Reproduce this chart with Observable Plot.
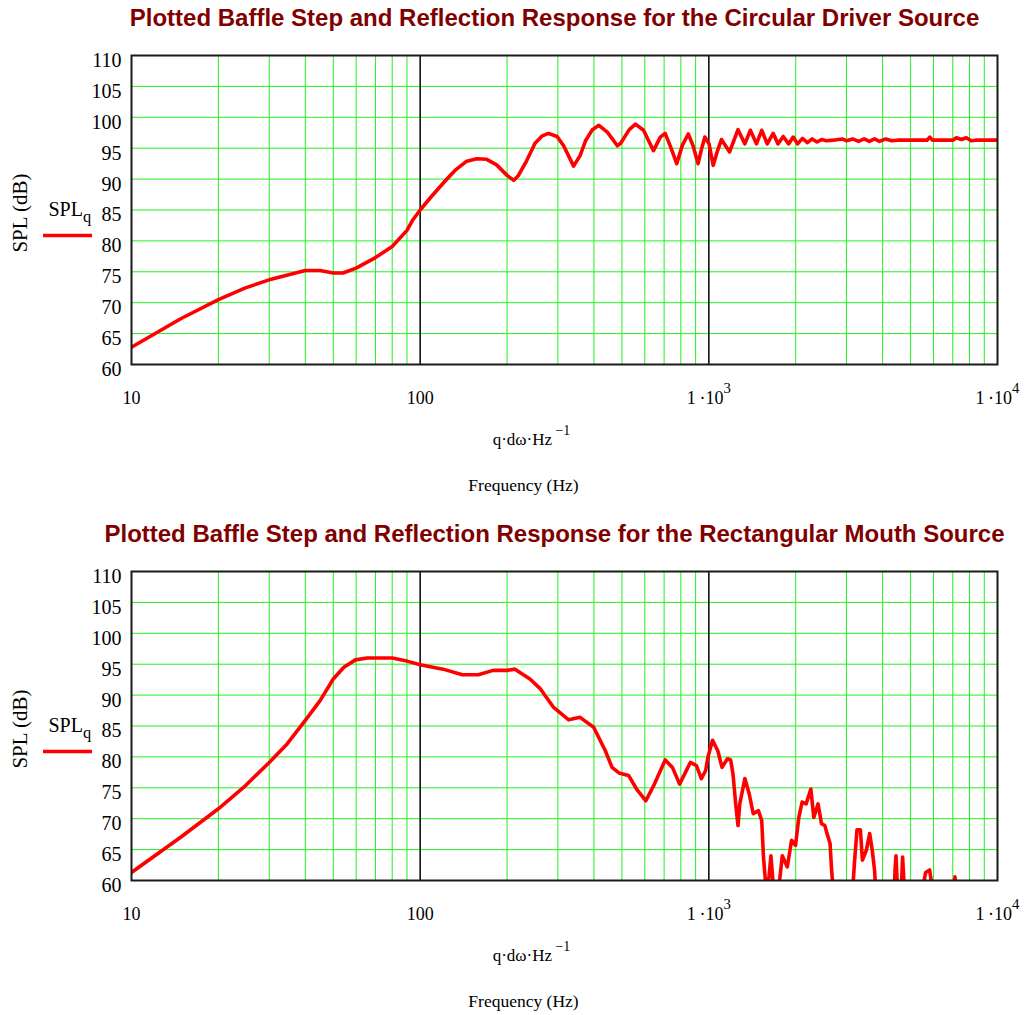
<!DOCTYPE html>
<html>
<head>
<meta charset="utf-8">
<script src="https://cdn.jsdelivr.net/npm/d3@7"></script>
<script src="https://cdn.jsdelivr.net/npm/@observablehq/plot@0.6"></script>
<style>
  body { margin: 0; background: #fff; }
  #charts { width: 1026px; }
  #charts svg { display: block; }
</style>
</head>
<body>
<div id="charts"></div>
<script>
// Circular driver source: frequency (Hz) and SPL (dB)
const freqCircular = [10, 14.8, 20, 24.8, 30, 40, 45, 50, 54, 60, 70, 80, 90, 94, 100, 109, 122, 132, 145, 157,
  170, 184, 200, 211, 219, 234, 250, 265, 278, 298, 314, 340, 358, 374, 395, 416, 445, 482, 495, 530,
  557, 594, 643, 679, 706, 740, 774, 810, 849, 880, 918, 945, 969, 1002, 1035, 1070, 1106, 1180, 1262, 1333,
  1393, 1462, 1525, 1593, 1670, 1736, 1810, 1890, 1960, 2030, 2110, 2195, 2280, 2370, 2460, 2550, 2700, 2900, 3000, 3150,
  3300, 3450, 3600, 3750, 3900, 4100, 4300, 4500, 5700, 5830, 5950, 7000, 7200, 7500, 7800, 8100, 8400, 10000];
const splCircular = [62.8, 67.4, 70.5, 72.4, 73.7, 75.2, 75.2, 74.8, 74.8, 75.6, 77.3, 79.1, 81.7, 83.3, 85.0, 87.1, 89.7, 91.4, 92.9, 93.3,
  93.2, 92.3, 90.6, 89.8, 90.6, 93.0, 95.8, 97.0, 97.4, 96.9, 95.4, 92.1, 93.8, 96.2, 98.0, 98.7, 97.6, 95.4, 95.8, 98.0,
  98.9, 97.9, 94.6, 96.8, 97.4, 95.0, 92.5, 95.5, 97.3, 95.5, 92.5, 95.0, 96.8, 95.7, 92.2, 94.5, 96.4, 94.4, 98.0, 95.7,
  97.9, 95.7, 97.9, 95.7, 97.4, 95.7, 96.9, 95.7, 96.8, 95.7, 96.6, 95.9, 96.5, 96.0, 96.4, 96.2, 96.3, 96.5, 96.2, 96.5,
  96.1, 96.5, 96.1, 96.5, 96.1, 96.5, 96.2, 96.3, 96.3, 96.8, 96.3, 96.3, 96.7, 96.4, 96.7, 96.2, 96.3, 96.3];

// Rectangular mouth source: frequency (Hz) and SPL (dB); values under 60 dB fall outside the plot
const freqMouth = [10, 14.8, 20, 24.5, 30, 34.6, 40, 45, 50, 54.4, 59.7, 65.5, 80, 90, 100, 120, 140, 159, 179, 200,
  213, 240, 261, 290, 327, 358, 399, 438, 462, 488, 527, 562, 605, 648, 706, 748, 792, 863, 906, 942,
  975, 993, 1030, 1074, 1111, 1160, 1190, 1212, 1239, 1262, 1280, 1333, 1380, 1425, 1485, 1525, 1546, 1590, 1641, 1687,
  1730, 1797, 1870, 1935, 1997, 2050, 2105, 2173, 2256, 2310, 2390, 2456, 2522, 2571, 2630, 2660, 2700, 2750, 3100, 3155,
  3200, 3260, 3350, 3404, 3513, 3607, 3682, 3752, 3800, 3850, 4350, 4420, 4450, 4530, 4640, 4690, 4790, 4850, 5400, 5460,
  5640, 5820, 5980, 6050, 7000, 7120, 7290, 7400, 10000];
const splMouth = [61.3, 67.0, 71.6, 75.1, 79.1, 82.1, 85.9, 89.1, 92.6, 94.5, 95.7, 96.0, 96.0, 95.5, 94.9, 94.2, 93.3, 93.3, 94.0, 94.0,
  94.2, 92.6, 91.0, 88.0, 86.0, 86.4, 84.8, 81.0, 78.3, 77.4, 77.0, 74.8, 72.9, 75.6, 79.5, 78.3, 75.6, 79.1, 78.6, 76.5,
  77.8, 80.0, 82.7, 81.0, 78.3, 79.7, 79.5, 77.3, 72.4, 68.9, 72.4, 76.5, 74.0, 70.8, 71.3, 69.7, 63.8, 57.0, 64.0, 57.0,
  57.0, 64.0, 62.2, 66.5, 65.7, 70.2, 72.7, 72.4, 74.8, 70.2, 72.4, 69.2, 68.9, 67.5, 66.0, 62.0, 58.0, 54.0, 54.0, 59.0,
  63.3, 68.2, 68.2, 63.3, 64.9, 67.6, 64.9, 61.6, 57.0, 54.0, 54.0, 62.0, 64.0, 56.0, 58.0, 63.8, 56.0, 54.0, 54.0, 58.0,
  61.3, 61.7, 58.0, 54.0, 54.0, 60.6, 57.0, 54.0, 54.0];

// Axis ticks and labels
const splTicks = [60, 65, 70, 75, 80, 85, 90, 95, 100, 105, 110];
const decadeTicks = [10, 100, 1000, 10000];
const decadeLabels = ["10", "100", "1\u2009·10^3", "1\u2009·10^4"];
const majorFreqs = [100, 1000];
const minorFreqs = [20, 30, 40, 50, 60, 70, 80, 90, 200, 300, 400, 500, 600, 700, 800, 900,
  2000, 3000, 4000, 5000, 6000, 7000, 8000, 9000];
const innerSplTicks = [65, 70, 75, 80, 85, 90, 95, 100, 105];

const titles = [
  "Plotted Baffle Step and Reflection Response for the Circular Driver Source",
  "Plotted Baffle Step and Reflection Response for the Rectangular Mouth Source"
];
const legendLabel = "SPL_q";
const yLabel = "SPL (dB)";
const xUnitLabel = "q·dω·Hz\u2009^−1";
const xLabel = "Frequency (Hz)";

const GREEN = "#22f022";
const RED = "#ff0000";
const TITLE_RED = "#800000";

// Turn "a^b" / "a_b" text into a raised / lowered tspan
function setScripts(svg) {
  d3.select(svg).selectAll("text").each(function () {
    if (this.childElementCount) return;
    const m = /^(.*?)([\^_])(.+)$/.exec(this.textContent);
    if (!m) return;
    const t = d3.select(this).text(null);
    t.append("tspan").text(m[1]);
    t.append("tspan")
      .attr("dy", m[2] === "^" ? "-0.75em" : "0.35em")
      .style("font-size", "0.82em")
      .text(m[3]);
  });
}

function chart(freqs, spls, title, height) {
  const data = freqs.map((f, i) => ({f, spl: spls[i]}));
  const marginTop = 55, plotH = 309, marginLeft = 131;
  const svg = Plot.plot({
    width: 1026,
    height,
    marginLeft,
    marginRight: 29,
    marginTop,
    marginBottom: height - marginTop - plotH,
    style: {fontFamily: "'Liberation Serif', 'Times New Roman', serif", background: "#fff", overflow: "visible"},
    x: {type: "log", domain: [10, 10000]},
    y: {domain: [60, 110]},
    marks: [
      Plot.gridX(minorFreqs, {stroke: GREEN, strokeOpacity: 1, strokeWidth: 1}),
      Plot.gridY(innerSplTicks, {stroke: GREEN, strokeOpacity: 1, strokeWidth: 1}),
      Plot.gridX(majorFreqs, {stroke: "#111", strokeOpacity: 1, strokeWidth: 1.6}),
      Plot.axisY(splTicks, {tickSize: 0, tickPadding: 10, dy: 5, fontSize: 20, label: null, fill: "#000"}),
      Plot.axisX(decadeTicks, {tickSize: 0, tickPadding: 27, fontSize: 18, label: null, fill: "#000",
        tickFormat: d => decadeLabels[decadeTicks.indexOf(d)]}),
      Plot.line(data, {x: "f", y: "spl", stroke: RED, strokeWidth: 3.6, clip: true,
        strokeLinejoin: "round", strokeLinecap: "round"}),
      Plot.frame({stroke: "#1a1a1a", strokeWidth: 2}),
      Plot.text([title], {frameAnchor: "top", lineAnchor: "middle", dx: -10, dy: -37, fontSize: 24, fontWeight: "bold",
        fontFamily: "'Liberation Sans', Arial, sans-serif", fill: TITLE_RED}),
      Plot.text([yLabel], {frameAnchor: "left", textAnchor: "middle", dx: -111, dy: 3, rotate: -90, fontSize: 21, fill: "#000"}),
      Plot.text([legendLabel], {frameAnchor: "left", dx: -83, dy: 0, textAnchor: "start", fontSize: 20, fill: "#000"}),
      Plot.text([xUnitLabel], {frameAnchor: "bottom", lineAnchor: "middle", dx: -33, dy: 75, fontSize: 17, fill: "#000"}),
      Plot.text([xLabel], {frameAnchor: "bottom", lineAnchor: "middle", dx: -41, dy: 121, fontSize: 17.5, fill: "#000"})
    ]
  });
  setScripts(svg);
  // legend swatch for the SPL trace, under its label
  const ly = marginTop + plotH / 2 + 26;
  d3.select(svg).append("line")
    .attr("x1", marginLeft - 88).attr("x2", marginLeft - 39)
    .attr("y1", ly).attr("y2", ly)
    .attr("stroke", RED).attr("stroke-width", 3.6);
  return svg;
}

const root = document.getElementById("charts");
root.append(chart(freqCircular, splCircular, titles[0], 516));
root.append(chart(freqMouth, splMouth, titles[1], 499));
</script>
</body>
</html>
